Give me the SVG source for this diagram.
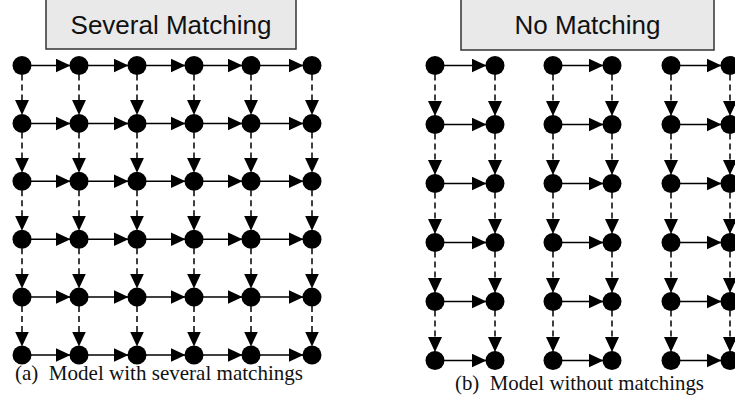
<svg xmlns="http://www.w3.org/2000/svg" width="735" height="401" viewBox="0 0 735 401">
  <style>
    .box { fill: #e9e9e9; stroke: #333333; stroke-width: 1.5; }
    .title { font-family: "Liberation Sans", Arial, sans-serif; font-size: 26px; fill: #111111; text-anchor: middle; }
    .cap { font-family: "Liberation Serif", "Times New Roman", serif; font-size: 21px; fill: #111111; }
    .n { fill: #000000; }
    .h { stroke: #000000; stroke-width: 1.5; fill: none; marker-end: url(#arr); }
    .v { stroke: #000000; stroke-width: 1.5; fill: none; stroke-dasharray: 6 4; marker-end: url(#arr); }
  </style>
  <defs>
    <marker id="arr" markerUnits="userSpaceOnUse" markerWidth="16" markerHeight="15" refX="14.5" refY="7" orient="auto">
      <path d="M0,0 L15,7 L0,14 Z" fill="#000000"/>
    </marker>
  </defs>

  <rect width="735" height="401" fill="#ffffff"/>

  <!-- headers -->
  <g id="title-left">
    <rect class="box" x="46" y="-2" width="250" height="51"/>
    <text class="title" x="171" y="34">Several Matching</text>
  </g>
  <g id="title-right">
    <rect class="box" x="461" y="-2" width="253" height="52"/>
    <text class="title" x="587.5" y="34">No Matching</text>
  </g>

  <!-- connectors -->
  <g id="connectors">
    <!-- left grid: horizontal -->
    <g id="left-h">
      <line class="h" x1="31" y1="65.5" x2="70" y2="65.5"/><line class="h" x1="88" y1="65.5" x2="128" y2="65.5"/><line class="h" x1="146" y1="65.5" x2="185" y2="65.5"/><line class="h" x1="203" y1="65.5" x2="242" y2="65.5"/><line class="h" x1="260" y1="65.5" x2="303" y2="65.5"/>
      <line class="h" x1="31" y1="123.4" x2="70" y2="123.4"/><line class="h" x1="88" y1="123.4" x2="128" y2="123.4"/><line class="h" x1="146" y1="123.4" x2="185" y2="123.4"/><line class="h" x1="203" y1="123.4" x2="242" y2="123.4"/><line class="h" x1="260" y1="123.4" x2="303" y2="123.4"/>
      <line class="h" x1="31" y1="181.3" x2="70" y2="181.3"/><line class="h" x1="88" y1="181.3" x2="128" y2="181.3"/><line class="h" x1="146" y1="181.3" x2="185" y2="181.3"/><line class="h" x1="203" y1="181.3" x2="242" y2="181.3"/><line class="h" x1="260" y1="181.3" x2="303" y2="181.3"/>
      <line class="h" x1="31" y1="239.2" x2="70" y2="239.2"/><line class="h" x1="88" y1="239.2" x2="128" y2="239.2"/><line class="h" x1="146" y1="239.2" x2="185" y2="239.2"/><line class="h" x1="203" y1="239.2" x2="242" y2="239.2"/><line class="h" x1="260" y1="239.2" x2="303" y2="239.2"/>
      <line class="h" x1="31" y1="297.1" x2="70" y2="297.1"/><line class="h" x1="88" y1="297.1" x2="128" y2="297.1"/><line class="h" x1="146" y1="297.1" x2="185" y2="297.1"/><line class="h" x1="203" y1="297.1" x2="242" y2="297.1"/><line class="h" x1="260" y1="297.1" x2="303" y2="297.1"/>
      <line class="h" x1="31" y1="355" x2="70" y2="355"/><line class="h" x1="88" y1="355" x2="128" y2="355"/><line class="h" x1="146" y1="355" x2="185" y2="355"/><line class="h" x1="203" y1="355" x2="242" y2="355"/><line class="h" x1="260" y1="355" x2="303" y2="355"/>
    </g>
    <!-- left grid: vertical -->
    <g id="left-v">
      <line class="v" x1="22" y1="74.5" x2="22" y2="114.4"/><line class="v" x1="22" y1="132.4" x2="22" y2="172.3"/><line class="v" x1="22" y1="190.3" x2="22" y2="230.2"/><line class="v" x1="22" y1="248.2" x2="22" y2="288.1"/><line class="v" x1="22" y1="306.1" x2="22" y2="346"/>
      <line class="v" x1="79" y1="74.5" x2="79" y2="114.4"/><line class="v" x1="79" y1="132.4" x2="79" y2="172.3"/><line class="v" x1="79" y1="190.3" x2="79" y2="230.2"/><line class="v" x1="79" y1="248.2" x2="79" y2="288.1"/><line class="v" x1="79" y1="306.1" x2="79" y2="346"/>
      <line class="v" x1="137" y1="74.5" x2="137" y2="114.4"/><line class="v" x1="137" y1="132.4" x2="137" y2="172.3"/><line class="v" x1="137" y1="190.3" x2="137" y2="230.2"/><line class="v" x1="137" y1="248.2" x2="137" y2="288.1"/><line class="v" x1="137" y1="306.1" x2="137" y2="346"/>
      <line class="v" x1="194" y1="74.5" x2="194" y2="114.4"/><line class="v" x1="194" y1="132.4" x2="194" y2="172.3"/><line class="v" x1="194" y1="190.3" x2="194" y2="230.2"/><line class="v" x1="194" y1="248.2" x2="194" y2="288.1"/><line class="v" x1="194" y1="306.1" x2="194" y2="346"/>
      <line class="v" x1="251" y1="74.5" x2="251" y2="114.4"/><line class="v" x1="251" y1="132.4" x2="251" y2="172.3"/><line class="v" x1="251" y1="190.3" x2="251" y2="230.2"/><line class="v" x1="251" y1="248.2" x2="251" y2="288.1"/><line class="v" x1="251" y1="306.1" x2="251" y2="346"/>
      <line class="v" x1="312" y1="74.5" x2="312" y2="114.4"/><line class="v" x1="312" y1="132.4" x2="312" y2="172.3"/><line class="v" x1="312" y1="190.3" x2="312" y2="230.2"/><line class="v" x1="312" y1="248.2" x2="312" y2="288.1"/><line class="v" x1="312" y1="306.1" x2="312" y2="346"/>
    </g>
    <!-- right grid: horizontal, within each column pair -->
    <g id="right-h">
      <line class="h" x1="444" y1="65.5" x2="486" y2="65.5"/><line class="h" x1="562" y1="65.5" x2="603" y2="65.5"/><line class="h" x1="680" y1="65.5" x2="721" y2="65.5"/>
      <line class="h" x1="444" y1="124.5" x2="486" y2="124.5"/><line class="h" x1="562" y1="124.5" x2="603" y2="124.5"/><line class="h" x1="680" y1="124.5" x2="721" y2="124.5"/>
      <line class="h" x1="444" y1="183.5" x2="486" y2="183.5"/><line class="h" x1="562" y1="183.5" x2="603" y2="183.5"/><line class="h" x1="680" y1="183.5" x2="721" y2="183.5"/>
      <line class="h" x1="444" y1="242.5" x2="486" y2="242.5"/><line class="h" x1="562" y1="242.5" x2="603" y2="242.5"/><line class="h" x1="680" y1="242.5" x2="721" y2="242.5"/>
      <line class="h" x1="444" y1="301.5" x2="486" y2="301.5"/><line class="h" x1="562" y1="301.5" x2="603" y2="301.5"/><line class="h" x1="680" y1="301.5" x2="721" y2="301.5"/>
      <line class="h" x1="444" y1="360.5" x2="486" y2="360.5"/><line class="h" x1="562" y1="360.5" x2="603" y2="360.5"/><line class="h" x1="680" y1="360.5" x2="721" y2="360.5"/>
    </g>
    <!-- right grid: vertical -->
    <g id="right-v">
      <line class="v" x1="435" y1="74.5" x2="435" y2="115.5"/><line class="v" x1="435" y1="133.5" x2="435" y2="174.5"/><line class="v" x1="435" y1="192.5" x2="435" y2="233.5"/><line class="v" x1="435" y1="251.5" x2="435" y2="292.5"/><line class="v" x1="435" y1="310.5" x2="435" y2="351.5"/>
      <line class="v" x1="495" y1="74.5" x2="495" y2="115.5"/><line class="v" x1="495" y1="133.5" x2="495" y2="174.5"/><line class="v" x1="495" y1="192.5" x2="495" y2="233.5"/><line class="v" x1="495" y1="251.5" x2="495" y2="292.5"/><line class="v" x1="495" y1="310.5" x2="495" y2="351.5"/>
      <line class="v" x1="553" y1="74.5" x2="553" y2="115.5"/><line class="v" x1="553" y1="133.5" x2="553" y2="174.5"/><line class="v" x1="553" y1="192.5" x2="553" y2="233.5"/><line class="v" x1="553" y1="251.5" x2="553" y2="292.5"/><line class="v" x1="553" y1="310.5" x2="553" y2="351.5"/>
      <line class="v" x1="612" y1="74.5" x2="612" y2="115.5"/><line class="v" x1="612" y1="133.5" x2="612" y2="174.5"/><line class="v" x1="612" y1="192.5" x2="612" y2="233.5"/><line class="v" x1="612" y1="251.5" x2="612" y2="292.5"/><line class="v" x1="612" y1="310.5" x2="612" y2="351.5"/>
      <line class="v" x1="671" y1="74.5" x2="671" y2="115.5"/><line class="v" x1="671" y1="133.5" x2="671" y2="174.5"/><line class="v" x1="671" y1="192.5" x2="671" y2="233.5"/><line class="v" x1="671" y1="251.5" x2="671" y2="292.5"/><line class="v" x1="671" y1="310.5" x2="671" y2="351.5"/>
      <line class="v" x1="730" y1="74.5" x2="730" y2="115.5"/><line class="v" x1="730" y1="133.5" x2="730" y2="174.5"/><line class="v" x1="730" y1="192.5" x2="730" y2="233.5"/><line class="v" x1="730" y1="251.5" x2="730" y2="292.5"/><line class="v" x1="730" y1="310.5" x2="730" y2="351.5"/>
    </g>
  </g>

  <!-- left grid nodes -->
  <g id="left-nodes">
    <g id="a-r1-c1"><circle class="n" cx="22" cy="65.5" r="9.5"/></g>
    <g id="a-r1-c2"><circle class="n" cx="79" cy="65.5" r="9.5"/></g>
    <g id="a-r1-c3"><circle class="n" cx="137" cy="65.5" r="9.5"/></g>
    <g id="a-r1-c4"><circle class="n" cx="194" cy="65.5" r="9.5"/></g>
    <g id="a-r1-c5"><circle class="n" cx="251" cy="65.5" r="9.5"/></g>
    <g id="a-r1-c6"><circle class="n" cx="312" cy="65.5" r="9.5"/></g>
    <g id="a-r2-c1"><circle class="n" cx="22" cy="123.4" r="9.5"/></g>
    <g id="a-r2-c2"><circle class="n" cx="79" cy="123.4" r="9.5"/></g>
    <g id="a-r2-c3"><circle class="n" cx="137" cy="123.4" r="9.5"/></g>
    <g id="a-r2-c4"><circle class="n" cx="194" cy="123.4" r="9.5"/></g>
    <g id="a-r2-c5"><circle class="n" cx="251" cy="123.4" r="9.5"/></g>
    <g id="a-r2-c6"><circle class="n" cx="312" cy="123.4" r="9.5"/></g>
    <g id="a-r3-c1"><circle class="n" cx="22" cy="181.3" r="9.5"/></g>
    <g id="a-r3-c2"><circle class="n" cx="79" cy="181.3" r="9.5"/></g>
    <g id="a-r3-c3"><circle class="n" cx="137" cy="181.3" r="9.5"/></g>
    <g id="a-r3-c4"><circle class="n" cx="194" cy="181.3" r="9.5"/></g>
    <g id="a-r3-c5"><circle class="n" cx="251" cy="181.3" r="9.5"/></g>
    <g id="a-r3-c6"><circle class="n" cx="312" cy="181.3" r="9.5"/></g>
    <g id="a-r4-c1"><circle class="n" cx="22" cy="239.2" r="9.5"/></g>
    <g id="a-r4-c2"><circle class="n" cx="79" cy="239.2" r="9.5"/></g>
    <g id="a-r4-c3"><circle class="n" cx="137" cy="239.2" r="9.5"/></g>
    <g id="a-r4-c4"><circle class="n" cx="194" cy="239.2" r="9.5"/></g>
    <g id="a-r4-c5"><circle class="n" cx="251" cy="239.2" r="9.5"/></g>
    <g id="a-r4-c6"><circle class="n" cx="312" cy="239.2" r="9.5"/></g>
    <g id="a-r5-c1"><circle class="n" cx="22" cy="297.1" r="9.5"/></g>
    <g id="a-r5-c2"><circle class="n" cx="79" cy="297.1" r="9.5"/></g>
    <g id="a-r5-c3"><circle class="n" cx="137" cy="297.1" r="9.5"/></g>
    <g id="a-r5-c4"><circle class="n" cx="194" cy="297.1" r="9.5"/></g>
    <g id="a-r5-c5"><circle class="n" cx="251" cy="297.1" r="9.5"/></g>
    <g id="a-r5-c6"><circle class="n" cx="312" cy="297.1" r="9.5"/></g>
    <g id="a-r6-c1"><circle class="n" cx="22" cy="355" r="9.5"/></g>
    <g id="a-r6-c2"><circle class="n" cx="79" cy="355" r="9.5"/></g>
    <g id="a-r6-c3"><circle class="n" cx="137" cy="355" r="9.5"/></g>
    <g id="a-r6-c4"><circle class="n" cx="194" cy="355" r="9.5"/></g>
    <g id="a-r6-c5"><circle class="n" cx="251" cy="355" r="9.5"/></g>
    <g id="a-r6-c6"><circle class="n" cx="312" cy="355" r="9.5"/></g>
  </g>

  <!-- right grid nodes -->
  <g id="right-nodes">
    <g id="b-r1-c1"><circle class="n" cx="435" cy="65.5" r="9.5"/></g>
    <g id="b-r1-c2"><circle class="n" cx="495" cy="65.5" r="9.5"/></g>
    <g id="b-r1-c3"><circle class="n" cx="553" cy="65.5" r="9.5"/></g>
    <g id="b-r1-c4"><circle class="n" cx="612" cy="65.5" r="9.5"/></g>
    <g id="b-r1-c5"><circle class="n" cx="671" cy="65.5" r="9.5"/></g>
    <g id="b-r1-c6"><circle class="n" cx="730" cy="65.5" r="9.5"/></g>
    <g id="b-r2-c1"><circle class="n" cx="435" cy="124.5" r="9.5"/></g>
    <g id="b-r2-c2"><circle class="n" cx="495" cy="124.5" r="9.5"/></g>
    <g id="b-r2-c3"><circle class="n" cx="553" cy="124.5" r="9.5"/></g>
    <g id="b-r2-c4"><circle class="n" cx="612" cy="124.5" r="9.5"/></g>
    <g id="b-r2-c5"><circle class="n" cx="671" cy="124.5" r="9.5"/></g>
    <g id="b-r2-c6"><circle class="n" cx="730" cy="124.5" r="9.5"/></g>
    <g id="b-r3-c1"><circle class="n" cx="435" cy="183.5" r="9.5"/></g>
    <g id="b-r3-c2"><circle class="n" cx="495" cy="183.5" r="9.5"/></g>
    <g id="b-r3-c3"><circle class="n" cx="553" cy="183.5" r="9.5"/></g>
    <g id="b-r3-c4"><circle class="n" cx="612" cy="183.5" r="9.5"/></g>
    <g id="b-r3-c5"><circle class="n" cx="671" cy="183.5" r="9.5"/></g>
    <g id="b-r3-c6"><circle class="n" cx="730" cy="183.5" r="9.5"/></g>
    <g id="b-r4-c1"><circle class="n" cx="435" cy="242.5" r="9.5"/></g>
    <g id="b-r4-c2"><circle class="n" cx="495" cy="242.5" r="9.5"/></g>
    <g id="b-r4-c3"><circle class="n" cx="553" cy="242.5" r="9.5"/></g>
    <g id="b-r4-c4"><circle class="n" cx="612" cy="242.5" r="9.5"/></g>
    <g id="b-r4-c5"><circle class="n" cx="671" cy="242.5" r="9.5"/></g>
    <g id="b-r4-c6"><circle class="n" cx="730" cy="242.5" r="9.5"/></g>
    <g id="b-r5-c1"><circle class="n" cx="435" cy="301.5" r="9.5"/></g>
    <g id="b-r5-c2"><circle class="n" cx="495" cy="301.5" r="9.5"/></g>
    <g id="b-r5-c3"><circle class="n" cx="553" cy="301.5" r="9.5"/></g>
    <g id="b-r5-c4"><circle class="n" cx="612" cy="301.5" r="9.5"/></g>
    <g id="b-r5-c5"><circle class="n" cx="671" cy="301.5" r="9.5"/></g>
    <g id="b-r5-c6"><circle class="n" cx="730" cy="301.5" r="9.5"/></g>
    <g id="b-r6-c1"><circle class="n" cx="435" cy="360.5" r="9.5"/></g>
    <g id="b-r6-c2"><circle class="n" cx="495" cy="360.5" r="9.5"/></g>
    <g id="b-r6-c3"><circle class="n" cx="553" cy="360.5" r="9.5"/></g>
    <g id="b-r6-c4"><circle class="n" cx="612" cy="360.5" r="9.5"/></g>
    <g id="b-r6-c5"><circle class="n" cx="671" cy="360.5" r="9.5"/></g>
    <g id="b-r6-c6"><circle class="n" cx="730" cy="360.5" r="9.5"/></g>
  </g>

  <!-- captions -->
  <text class="cap" x="15" y="380" textLength="288" lengthAdjust="spacingAndGlyphs" xml:space="preserve">(a)  Model with several matchings</text>
  <text class="cap" x="455" y="390" textLength="249" lengthAdjust="spacingAndGlyphs" xml:space="preserve">(b)  Model without matchings</text>
</svg>
